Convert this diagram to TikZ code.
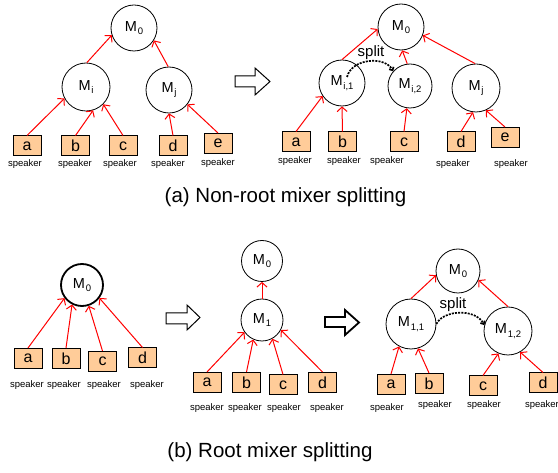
\documentclass[tikz,border=0pt]{standalone}
\usepackage{fontspec}
\setmainfont{Liberation Sans}
\usetikzlibrary{arrows.meta}
\definecolor{peach}{RGB}{255,204,153}
\newcommand\mixlabel[1]{M\kern0.8pt\raisebox{-3.5pt}{\fontsize{9.5}{10}\selectfont #1}}
\begin{document}
\begin{tikzpicture}[x=1pt,y=-1pt,
  mixer/.style={circle,draw,line width=0.8pt,inner sep=0pt,minimum size=#1,font=\fontsize{14.5}{16}\selectfont},
  mixer/.default=46pt,
  spk/.style={draw,fill=peach,line width=1pt,minimum width=28pt,minimum height=20pt,inner sep=0pt,font=\fontsize{16}{18}\selectfont},
  lbl/.style={font=\fontsize{9.5}{11}\selectfont,inner sep=0pt},
  feed/.style={red,line width=1pt,-{Straight Barb[length=4.5pt,width=10pt]}},
  splitarc/.style={line width=1.7pt,dash pattern=on 2pt off 1.2pt,-{Straight Barb[length=2.5pt,width=5pt]}},
  hollow/.style={draw,fill=white,line width=1pt,line join=miter},
  captxt/.style={font=\fontsize{20.5}{24}\selectfont,inner sep=0pt},
  splittxt/.style={font=\fontsize{15}{17}\selectfont,inner sep=0pt}
]
\useasboundingbox (0,0) rectangle (558,473);

% ---------- (a) left tree ----------
\node[mixer=46pt] (A0) at (134,28) {\mixlabel{0}};
\node[mixer=48pt] (Ai) at (86,87) {\mixlabel{i}};
\node[mixer=46pt] (Aj) at (169,90) {\mixlabel{j}};
\node[spk] (Aa) at (27,146) {a};
\node[spk] (Ab) at (75.5,146) {b};
\node[spk] (Ac) at (123,146) {c};
\node[spk] (Ad) at (173,146) {d};
\node[spk] (Ae) at (218,143.5) {e};
\node[lbl] (Ta) at (25,164) {speaker};
\node[lbl] (Tb) at (75,164) {speaker};
\node[lbl] (Tc) at (120,164) {speaker};
\node[lbl] (Td) at (168,164) {speaker};
\node[lbl] (Te) at (218,163) {speaker};
\draw[feed] (Aa.north) -- (Ai.208);
\draw[feed] (Ab.north) -- (Ai.287);
\draw[feed] (Ac.north) -- (Ai.315);
\draw[feed] (Ai.88) -- (A0.198);
\draw[feed] (Aj.92) -- (A0.328);
\draw[feed] (Ad.north) -- (Aj.270);
\draw[feed] (Ae.north) -- (Aj.322);

\draw[hollow] (235,76) -- (255,76) -- (255,68) -- (270,81.5) -- (255,95) -- (255,87) -- (235,87) -- cycle;

% ---------- (a) right tree ----------
\node[mixer=46pt] (B0) at (401,27) {\mixlabel{0}};
\node[mixer=46pt] (Bi1) at (342,83) {\mixlabel{i,1}};
\node[mixer=44pt] (Bi2) at (410,86) {\mixlabel{i,2}};
\node[mixer=48pt] (Bj) at (476,88) {\mixlabel{j}};
\node[spk] (Ba) at (296,142) {a};
\node[spk] (Bb) at (342.5,142) {b};
\node[spk] (Bc) at (404,142) {c};
\node[spk] (Bd) at (461,142) {d};
\node[spk] (Be) at (505,137.5) {e};
\node[lbl] (Ua) at (295,161) {speaker};
\node[lbl] (Ub) at (344,161) {speaker};
\node[lbl] (Uc) at (387,161) {speaker};
\node[lbl] (Ud) at (453,164) {speaker};
\node[lbl] (Ue) at (511,164) {speaker};
\draw[feed] (Ba.north) -- (Bi1.214);
\draw[feed] (Bb.north) -- (Bi1.270);
\draw[feed] (Bc.north) -- (Bi2.262);
\draw[feed] (Bi1.90) -- (B0.185);
\draw[feed] (Bi2.97) -- (B0.273);
\draw[feed] (Bj.92) -- (B0.339);
\draw[feed] (Bd.north) -- (Bj.263);
\draw[feed] (Be.north) -- (Bj.294);
\coordinate (Bs) at (347,77);
\draw[splitarc] (Bs) .. controls (352,58) and (385,56) .. (Bi2.139);
\node[splittxt] (Bsl) at (371,53) {split};

\node[captxt] (capa) at (285.5,197) {(a) Non-root mixer splitting};

% ---------- (b) left ----------
\node[mixer=42pt,line width=1.8pt] (C0) at (82,285) {\mixlabel{0}};
\node[spk] (Ca) at (28,358.5) {a};
\node[spk] (Cb) at (66,358.5) {b};
\node[spk] (Cc) at (102.5,361.5) {c};
\node[spk] (Cd) at (142.5,358) {d};
\node[lbl] (Va) at (27,385) {speaker};
\node[lbl] (Vb) at (64,385) {speaker};
\node[lbl] (Vc) at (104,385) {speaker};
\node[lbl] (Vd) at (147,385) {speaker};
\draw[feed] (Ca.north) -- (C0.217);
\draw[feed] (Cb.north) -- (C0.243);
\draw[feed] (Cc.north) -- (C0.288);
\draw[feed] (Cd.north) -- (C0.323);

\draw[hollow] (166,313) -- (187,313) -- (187,305) -- (200,317.5) -- (187,330) -- (187,324) -- (166,324) -- cycle;

% ---------- (b) middle ----------
\node[mixer=41pt] (D0) at (262,261) {\mixlabel{0}};
\node[mixer=42pt] (D1) at (262,320) {\mixlabel{1}};
\node[spk] (Da) at (207,382.5) {a};
\node[spk] (Db) at (246.5,382.5) {b};
\node[spk] (Dc) at (283,385) {c};
\node[spk] (Dd) at (322.5,382.5) {d};
\node[lbl] (Wa) at (207,408) {speaker};
\node[lbl] (Wb) at (245,408) {speaker};
\node[lbl] (Wc) at (284,408) {speaker};
\node[lbl] (Wd) at (327,408) {speaker};
\draw[feed] (D1.north) -- (D0.south);
\draw[feed] (Da.north) -- (D1.215);
\draw[feed] (Db.north) -- (D1.246);
\draw[feed] (Dc.north) -- (D1.299);
\draw[feed] (Dd.north) -- (D1.332);

\draw[hollow,line width=1.8pt] (325,317) -- (345,317) -- (345,310) -- (359,322.5) -- (345,335) -- (345,327) -- (325,327) -- cycle;

% ---------- (b) right ----------
\node[mixer=44pt] (E0) at (458,271) {\mixlabel{0}};
\node[mixer=50pt] (E11) at (411,324) {\mixlabel{1,1}};
\node[mixer=48pt] (E12) at (508,331) {\mixlabel{1,2}};
\node[spk] (Ea) at (391,384.5) {a};
\node[spk] (Eb) at (429,383.5) {b};
\node[spk] (Ec) at (483,386) {c};
\node[spk] (Ed) at (543,383) {d};
\node[lbl] (Xa) at (387,408) {speaker};
\node[lbl] (Xb) at (435,405) {speaker};
\node[lbl] (Xc) at (484,405) {speaker};
\node[lbl] (Xd) at (542,405) {speaker};
\draw[feed] (E11.90) -- (E0.191);
\draw[feed] (E12.90) -- (E0.336);
\draw[feed] (Ea.north) -- (E11.242);
\draw[feed] (Eb.north) -- (E11.286);
\draw[feed] (Ec.north) -- (E12.247);
\draw[feed] (Ed.north) -- (E12.300);
\draw[splitarc] (E11.0) .. controls (443,310) and (475,308) .. (E12.166);
\node[splittxt] (Esl) at (453,305) {split};

\node[captxt] (capb) at (270,452) {(b) Root mixer splitting};
\end{tikzpicture}
\end{document}
